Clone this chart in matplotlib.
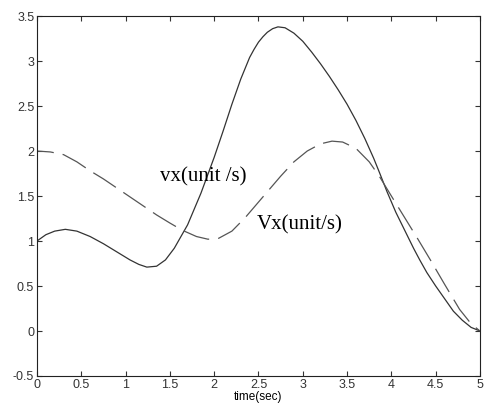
import matplotlib.pyplot as plt

# sampled velocity traces, time in seconds
t_vx = [0, 0.1, 0.2, 0.32, 0.45, 0.6, 0.75, 0.9, 1.05, 1.15, 1.24, 1.35, 1.45,
        1.55, 1.7, 1.85, 2.0, 2.1, 2.2, 2.3, 2.4, 2.45, 2.5, 2.55, 2.6, 2.66,
        2.72, 2.8, 2.9, 3.0, 3.1, 3.2, 3.3, 3.4, 3.5, 3.6, 3.7, 3.8, 3.87,
        3.95, 4.05, 4.15, 4.25, 4.32, 4.4, 4.5, 4.6, 4.7, 4.8, 4.9, 5.0]
vx = [1.0, 1.07, 1.11, 1.13, 1.11, 1.05, 0.97, 0.88, 0.79, 0.74, 0.71, 0.72,
      0.79, 0.92, 1.18, 1.53, 1.93, 2.22, 2.52, 2.80, 3.04, 3.13, 3.21, 3.27,
      3.32, 3.36, 3.38, 3.37, 3.31, 3.22, 3.10, 2.97, 2.83, 2.68, 2.52, 2.34,
      2.14, 1.92, 1.75, 1.55, 1.32, 1.12, 0.92, 0.79, 0.65, 0.50, 0.36, 0.22,
      0.12, 0.04, 0.0]

t_Vx = [0, 0.15, 0.3, 0.45, 0.6, 0.75, 0.9, 1.05, 1.2, 1.35, 1.5, 1.64, 1.8,
        1.93, 2.05, 2.2, 2.35, 2.55, 2.75, 2.9, 3.05, 3.2, 3.33, 3.45, 3.6,
        3.75, 3.87, 4.0, 4.15, 4.3, 4.44, 4.6, 4.77, 4.9, 5.0]
Vx = [2.0, 1.99, 1.96, 1.88, 1.78, 1.69, 1.59, 1.49, 1.39, 1.29, 1.20, 1.12,
      1.05, 1.02, 1.03, 1.11, 1.26, 1.49, 1.72, 1.88, 2.00, 2.08, 2.11, 2.10,
      2.03, 1.88, 1.71, 1.50, 1.26, 1.02, 0.79, 0.52, 0.24, 0.08, 0.0]

xticks = [0, 0.5, 1, 1.5, 2, 2.5, 3, 3.5, 4, 4.5, 5]
yticks = [-0.5, 0, 0.5, 1, 1.5, 2, 2.5, 3, 3.5]

fig = plt.figure(figsize=(4.84, 4.12), dpi=100)
ax = fig.add_axes([0.0764, 0.0874, 0.9153, 0.8736])

ax.plot(t_vx, vx, color='#333333', linewidth=0.9)
ax.plot(t_Vx, Vx, color='#555555', linewidth=0.9,
        linestyle=(8, (21.5, 7.2)))

ax.text(1.39, 1.71, 'vx(unit /s)', family='Liberation Serif', fontsize=15,
        va='center', ha='left')
ax.text(2.48, 1.18, 'Vx(unit/s)', family='Liberation Serif', fontsize=15,
        va='center', ha='left')

ax.set_xlim(0, 5)
ax.set_ylim(-0.5, 3.5)
ax.set_xticks(xticks)
ax.set_xticklabels([f'{v:g}' for v in xticks])
ax.set_yticks(yticks)
ax.set_yticklabels([f'{v:g}' for v in yticks])
ax.tick_params(direction='in', top=True, right=True, length=3.6, width=0.8,
               labelsize=9, pad=2, colors='#333333')
for tl in ax.get_xticklabels() + ax.get_yticklabels():
    tl.set_family('Liberation Sans')
for s in ax.spines.values():
    s.set_linewidth(0.8)
    s.set_color('#222222')

ax.set_xlabel('time(sec)', family='Liberation Sans', fontsize=8.5, labelpad=0)

fig.savefig('out.png', dpi=100)
